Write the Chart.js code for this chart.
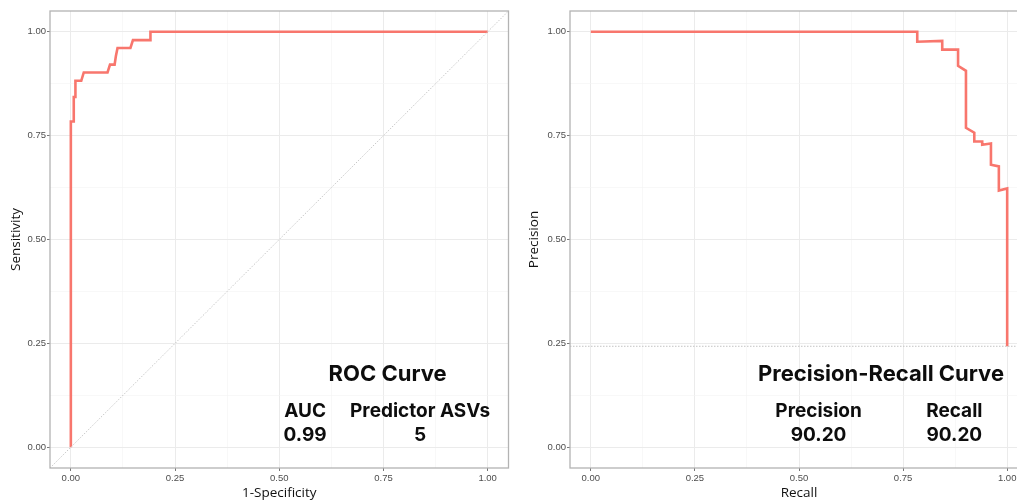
<!DOCTYPE html>
<html>
<head>
<meta charset="utf-8">
<script src="https://cdn.jsdelivr.net/npm/chart.js@4.4.1/dist/chart.umd.min.js"></script>
<style>
  html, body { margin: 0; padding: 0; background: #fff; }
  body { width: 1017px; height: 502px; overflow: hidden; position: relative; }
  #rocCanvas { position: absolute; left: 0; top: 0; }
  #prCanvas  { position: absolute; left: 510px; top: 0; }
</style>
</head>
<body>
<canvas id="rocCanvas" width="510" height="502"></canvas>
<canvas id="prCanvas" width="520" height="502"></canvas>
<script>
// ─── data ───────────────────────────────────────────────────────────────────
const ROC_FPR = [0, 0, 0.007, 0.007, 0.011, 0.011, 0.025, 0.031, 0.088, 0.094, 0.105, 0.108, 0.112, 0.143, 0.149, 0.191, 0.191, 1.0];
const ROC_TPR = [0, 0.784, 0.784, 0.843, 0.843, 0.882, 0.882, 0.902, 0.902, 0.921, 0.921, 0.941, 0.961, 0.961, 0.980, 0.980, 1.0, 1.0];

const PR_RECALL    = [0, 0.784, 0.784, 0.844, 0.844, 0.882, 0.882, 0.901, 0.901, 0.921, 0.921, 0.940, 0.940, 0.961, 0.961, 0.980, 0.980, 1.0, 1.0];
const PR_PRECISION = [1.0, 1.0, 0.976, 0.978, 0.957, 0.957, 0.918, 0.906, 0.769, 0.757, 0.736, 0.736, 0.728, 0.731, 0.680, 0.676, 0.618, 0.623, 0.243];
const PR_BASELINE  = 0.243;

const MAJOR_TICKS = [0, 0.25, 0.5, 0.75, 1];
const MINOR_TICKS = [0.125, 0.375, 0.625, 0.875];
const TICK_LABELS = ['0.00', '0.25', '0.50', '0.75', '1.00'];
const AXIS_MIN = -0.05, AXIS_MAX = 1.05;

const ROC_STATS = { title: 'ROC Curve', heads: ['AUC', 'Predictor ASVs'], values: ['0.99', '5'] };
const PR_STATS  = { title: 'Precision-Recall Curve', heads: ['Precision', 'Recall'], values: ['90.20', '90.20'] };

// ─── styling ────────────────────────────────────────────────────────────────
const LINE_RED   = '#f8766d';
const GRID_MAJOR = '#ebebeb';
const GRID_MINOR = '#f4f4f4';
const BORDER     = '#b3b3b3';
const TICK_TXT   = '#4d4d4d';
const TXT_FONT   = '"Liberation Sans", Arial, sans-serif';
const TITLE_FONT = '"Open Sans", sans-serif';
const NOTE_FONT  = 'Inter, "Open Sans", sans-serif';

const pts = (xs, ys) => xs.map((x, i) => ({ x, y: ys[i] }));
const isMajor = v => MAJOR_TICKS.some(m => Math.abs(m - v) < 1e-9);

// panel border (ggplot theme_light) + bold stats text in data coords
const panelPlugin = {
  id: 'panel',
  afterDatasetsDraw(chart, _a, opts) {
    const { ctx, chartArea: a, scales: { x, y } } = chart;
    ctx.save();
    ctx.strokeStyle = BORDER;
    ctx.lineWidth = 1.3;
    ctx.strokeRect(a.left, a.top, a.right - a.left, a.bottom - a.top);

    ctx.fillStyle = '#0d0d0d';
    ctx.textAlign = 'center';
    ctx.textBaseline = 'alphabetic';
    (opts.items || []).forEach(it => {
      ctx.font = `700 ${it.size}px ${NOTE_FONT}`;
      ctx.fillText(it.text, x.getPixelForValue(it.x), y.getPixelForValue(it.y));
    });
    ctx.restore();
  }
};

function axis(kind, titleText, axisW, titlePad) {
  const isX = kind === 'x';
  return {
    type: 'linear',
    position: isX ? 'bottom' : 'left',
    min: AXIS_MIN, max: AXIS_MAX,
    afterBuildTicks: s => { s.ticks = [...MAJOR_TICKS, ...MINOR_TICKS].sort((a, b) => a - b).map(v => ({ value: v })); },
    afterFit: s => { if (isX) s.height = 34; else s.width = axisW; },
    border: { display: false },
    grid: {
      color: c => isMajor(c.tick.value) ? GRID_MAJOR : GRID_MINOR,
      lineWidth: c => isMajor(c.tick.value) ? 1 : 0.6,
      tickColor: c => isMajor(c.tick.value) ? '#555' : 'rgba(0,0,0,0)',
      tickLength: 3,
      tickWidth: 0.8,
    },
    ticks: {
      autoSkip: false, maxRotation: 0,
      padding: isX ? 2 : 1,
      color: TICK_TXT,
      font: { family: TXT_FONT, size: 9.5 },
      callback: v => { const i = MAJOR_TICKS.findIndex(m => Math.abs(m - v) < 1e-9); return i >= 0 ? TICK_LABELS[i] : ''; },
    },
    title: {
      display: true, text: titleText, color: '#111',
      font: { family: TITLE_FONT, size: 13.5 },
      padding: isX ? { top: 0, bottom: 1 } : { top: titlePad, bottom: 0 },
    },
  };
}

function statsItems(s, cx, hx) {
  return [
    { text: s.title,     x: cx,    y: 0.159, size: 22 },
    { text: s.heads[0],  x: hx[0], y: 0.073, size: 19 },
    { text: s.heads[1],  x: hx[1], y: 0.073, size: 19 },
    { text: s.values[0], x: hx[0], y: 0.015, size: 19 },
    { text: s.values[1], x: hx[1], y: 0.015, size: 19 },
  ];
}

function makeChart(id, datasets, xTitle, yTitle, axisW, titlePad, padRight, items) {
  return new Chart(document.getElementById(id).getContext('2d'), {
    type: 'scatter',
    data: { datasets },
    options: {
      responsive: false, animation: false,
      layout: { padding: { top: 11, right: padRight, bottom: 0, left: 0 } },
      plugins: { legend: { display: false }, tooltip: { enabled: false }, panel: { items } },
      scales: { x: axis('x', xTitle), y: axis('y', yTitle, axisW, titlePad) },
    },
    plugins: [panelPlugin],
  });
}

const curve = (data) => ({ data, showLine: true, borderColor: LINE_RED, borderWidth: 2.6, pointRadius: 0, tension: 0, borderJoinStyle: 'miter' });
const dotted = (data, color) => ({ data, showLine: true, borderColor: color, borderWidth: 1, borderDash: [1.5, 1.5], pointRadius: 0 });

makeChart('rocCanvas', [
  dotted([{ x: AXIS_MIN, y: AXIS_MIN }, { x: AXIS_MAX, y: AXIS_MAX }], '#c8c8c8'),
  curve(pts(ROC_FPR, ROC_TPR)),
], '1-Specificity', 'Sensitivity', 50, 8.5, 1.5, statsItems(ROC_STATS, 0.76, [0.562, 0.838]));

makeChart('prCanvas', [
  dotted([{ x: AXIS_MIN, y: PR_BASELINE }, { x: AXIS_MAX, y: PR_BASELINE }], '#c4c4c4'),
  curve(pts(PR_RECALL, PR_PRECISION)),
], 'Recall', 'Precision', 60, 16.5, 2, statsItems(PR_STATS, 0.697, [0.547, 0.873]));
</script>
</body>
</html>
